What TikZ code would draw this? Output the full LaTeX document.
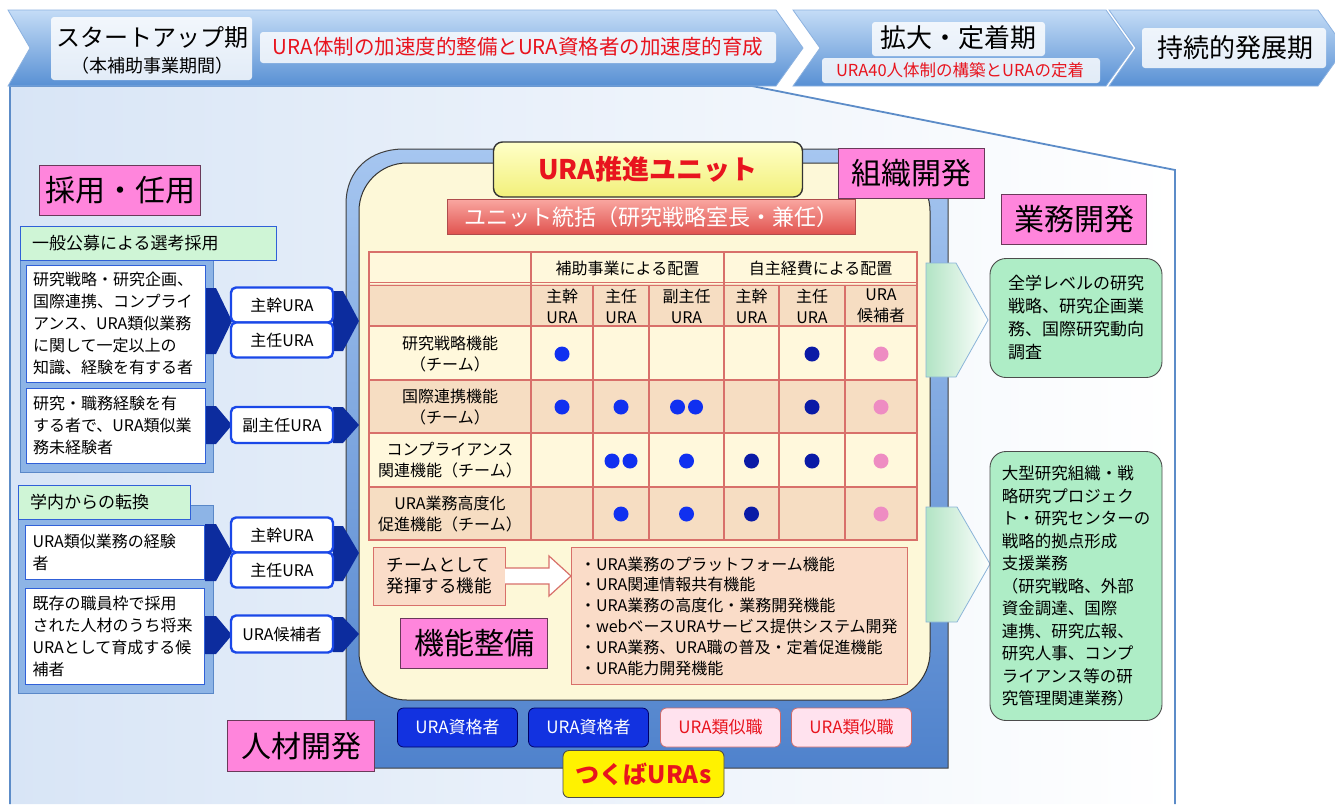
\documentclass[tikz,border=0pt]{standalone}
\usepackage{fontspec}
\setmainfont{Noto Sans CJK JP}
\usetikzlibrary{calc}
\newcommand\myfs[2]{\fontsize{#1}{#2}\selectfont}
\definecolor{pnk}{HTML}{FF85DC}
\definecolor{pnkdraw}{HTML}{6A3A5A}
\definecolor{chevT}{HTML}{C4DCF6}
\definecolor{chevB}{HTML}{5890D4}
\definecolor{chevD}{HTML}{8CB2E0}
\definecolor{panelL}{HTML}{D8E5F6}
\definecolor{panelLine}{HTML}{5C8CC8}
\definecolor{redtxt}{HTML}{E8141E}
\definecolor{grnlab}{HTML}{CFF5D6}
\definecolor{bluedraw}{HTML}{3060D8}
\definecolor{contfill}{HTML}{8DB4E6}
\definecolor{contdraw}{HTML}{5A88C8}
\definecolor{navy}{HTML}{0C2C9E}
\definecolor{urab}{HTML}{1A48E8}
\definecolor{outerT}{HTML}{A6C6F0}
\definecolor{outerB}{HTML}{4F82CC}
\definecolor{cream}{HTML}{FDF8D8}
\definecolor{tcream}{HTML}{FFF8DC}
\definecolor{ttan}{HTML}{F6DDC2}
\definecolor{tline}{HTML}{D8706A}
\definecolor{dotb}{HTML}{1030F0}
\definecolor{dotn}{HTML}{0A1AA6}
\definecolor{dotp}{HTML}{EE8CC2}
\definecolor{listfill}{HTML}{FADCC8}
\definecolor{qualb}{HTML}{1232E0}
\definecolor{simfill}{HTML}{FFE2EE}
\definecolor{greenbox}{HTML}{AEEDC6}
\definecolor{yelT}{HTML}{FFFFC8}
\definecolor{yelB}{HTML}{F2F07A}
\definecolor{redT}{HTML}{F9A6A0}
\definecolor{redB}{HTML}{E0524E}
\definecolor{garrL}{HTML}{B2E4C4}
\definecolor{garrD}{HTML}{8AB4D8}
\begin{document}
\begin{tikzpicture}[x=1pt,y=-1pt,
  every node/.style={inner sep=0pt,outer sep=0pt},
  pinkbox/.style={draw=pnkdraw, fill=pnk, line width=0.9pt, font=\myfs{30}{32}},
  grnlabel/.style={draw=bluedraw, fill=grnlab, line width=0.9pt, font=\myfs{17}{20}, align=left, inner xsep=12pt},
  cont/.style={draw=contdraw, fill=contfill, line width=1pt},
  wbox/.style={draw=bluedraw, fill=white, line width=0.9pt, font=\myfs{16}{22}, align=left, text width=165pt, inner xsep=7pt},
  urabox/.style={draw=urab, fill=white, line width=2.4pt, rounded corners=5pt, font=\myfs{16}{18}, minimum width=102pt},
  tcell/.style={font=\myfs{16}{21}, align=center},
  dotst/.style={circle, fill=#1, minimum size=15pt},
  tl/.style={tline, line width=1.5pt},
  qual/.style={fill=qualb, draw=blue!40!black, line width=0.8pt, rounded corners=6pt, minimum width=120pt, minimum height=39pt, text=white, font=\myfs{17}{19}},
  simj/.style={fill=simfill, draw=red!30!pink!80!black, line width=0.8pt, rounded corners=6pt, minimum width=120pt, minimum height=39pt, text=redtxt, font=\myfs{17}{19}},
  gbox/.style={draw=black!70, fill=greenbox, line width=0.9pt, rounded corners=16pt, minimum width=172pt, align=left},
  garr/.style={left color=garrL, right color=white, draw=garrD, line width=0.8pt},
  glow/.style={fill=white, opacity=0.82, rounded corners=3pt},
]
\useasboundingbox (0,0) rectangle (1335,804);
\clip (0,0) rectangle (1335,804);
\fill[white] (0,0) rectangle (1335,804);

% ---------- background panel ----------
\shade[left color=panelL, right color=white] (10,86) -- (752,86) -- (1175,170) -- (1175,804) -- (10,804) -- cycle;
\draw[panelLine, line width=1.8pt] (10,804) -- (10,86) -- (752,86) -- (1175,170) -- (1175,804);

% ---------- chevrons ----------
\shade[top color=chevT, bottom color=chevB, draw=chevD, line width=0.8pt] (8,10) -- (776,10) -- (803,48) -- (776,86) -- (8,86) -- (30,48) -- cycle;
\shade[top color=chevT, bottom color=chevB, draw=chevD, line width=0.8pt] (793,10) -- (1106,10) -- (1133,48) -- (1106,86) -- (793,86) -- (820,48) -- cycle;
\shade[top color=chevT, bottom color=chevB, draw=chevD, line width=0.8pt] (1109,10) -- (1318,10) -- (1345,48) -- (1318,86) -- (1109,86) -- (1136,48) -- cycle;
\fill[glow] (51,17) rectangle (252,80);
\fill[glow] (260,32) rectangle (776,63);
\fill[glow] (872,22) rectangle (1045,56);
\fill[glow] (822,58) rectangle (1100,83);
\fill[glow] (1142,28) rectangle (1326,68);
\node[font=\myfs{24}{26}] (p1a) at (152,38) {スタートアップ期};
\node[font=\myfs{18}{20}] (p1b) at (152,66) {（本補助事業期間）};
\node[font=\myfs{20.5}{23}, text=redtxt] (p1c) at (518,47) {URA体制の加速度的整備とURA資格者の加速度的育成};
\node[font=\myfs{26}{28}] (p2a) at (958,38) {拡大・定着期};
\node[font=\myfs{16.5}{18}, text=redtxt] (p2b) at (960,70) {URA40人体制の構築とURAの定着};
\node[font=\myfs{26}{28}] (p3a) at (1235,48) {持続的発展期};

% ---------- central unit ----------
\shade[top color=outerT, bottom color=outerB, draw=black!75, line width=1pt]
  (346,768) -- (346,204) .. controls (346,170) and (370,149) .. (404,149) -- (930,149) .. controls (942,149) and (948,156) .. (948,168) -- (948,768) -- cycle;
\draw[fill=cream, draw=black!80, line width=1pt, rounded corners=48pt] (359,163) rectangle (930,700);

% ---------- left column ----------
\node[pinkbox, minimum width=161pt, minimum height=50pt] (saiyo) at (120,190) {採用・任用};
\draw[cont] (20,250) rectangle (213,472);
\node[grnlabel, text width=232pt, minimum height=34pt] (lab1) at (148,243) {一般公募による選考採用};
\draw[cont] (18,505) rectangle (213,693);
\node[grnlabel, text width=148pt, minimum height=34pt] (lab2) at (104,502) {学内からの転換};

% navy block arrows
\fill[navy] (205,288) -- (216,288) -- (232,321) -- (216,354) -- (205,354) -- cycle;
\fill[navy] (333,291) -- (343,291) -- (359,321) -- (343,351) -- (333,351) -- cycle;
\fill[navy] (205,406) -- (216,406) -- (232,425) -- (216,444) -- (205,444) -- cycle;
\fill[navy] (333,407) -- (343,407) -- (359,425) -- (343,443) -- (333,443) -- cycle;
\fill[navy] (205,524) -- (216,524) -- (232,552) -- (216,581) -- (205,581) -- cycle;
\fill[navy] (333,526) -- (343,526) -- (359,553) -- (343,581) -- (333,581) -- cycle;
\fill[navy] (205,616) -- (216,616) -- (232,635) -- (216,654) -- (205,654) -- cycle;
\fill[navy] (333,617) -- (343,617) -- (359,634) -- (343,652) -- (333,652) -- cycle;

\node[wbox, minimum height=117pt] (w1) at (115.5,323.5) {研究戦略・研究企画、\\国際連携、コンプライ\\アンス、URA類似業務\\に関して一定以上の\\知識、経験を有する者};
\node[wbox, minimum height=75pt] (w2) at (115.5,425.5) {研究・職務経験を有\\する者で、URA類似業\\務未経験者};
\node[wbox, minimum height=54pt] (w3) at (115,552) {URA類似業務の経験\\者};
\node[wbox, minimum height=96pt] (w4) at (115,636) {既存の職員枠で採用\\された人材のうち将来\\URAとして育成する候\\補者};

\node[urabox, minimum height=35pt] (u1) at (282,305) {主幹URA};
\node[urabox, minimum height=35pt] (u2) at (282,340) {主任URA};
\node[urabox, minimum height=36pt] (u3) at (282,425) {副主任URA};
\node[urabox, minimum height=35pt] (u4) at (282,535) {主幹URA};
\node[urabox, minimum height=35pt] (u5) at (282,570) {主任URA};
\node[urabox, minimum height=37pt] (u6) at (282,634) {URA候補者};

\node[pinkbox, minimum width=147pt, minimum height=51pt] (jinzai) at (301,746) {人材開発};

% ---------- unit header ----------
\node[top color=yelT, bottom color=yelB, draw=black!80, line width=1.4pt, rounded corners=9pt, minimum width=309pt, minimum height=55pt, text=redtxt, font=\myfs{27}{29}\bfseries] (unit) at (648,169.5) {URA推進ユニット};
\node[pinkbox, minimum width=146pt, minimum height=50pt] (soshiki) at (911,173) {組織開発};
\node[top color=redT, bottom color=redB, draw=red!55!black!70, line width=0.8pt, minimum width=408pt, minimum height=35pt, text=white, font=\myfs{22}{24}] (tokatsu) at (651,217) {ユニット統括（研究戦略室長・兼任）};

% ---------- table ----------
\fill[tcream] (369,252) rectangle (917,284);
\fill[ttan] (369,284) rectangle (917,326);
\fill[tcream] (369,326) rectangle (917,380);
\fill[ttan] (369,380) rectangle (917,433);
\fill[tcream] (369,433) rectangle (917,487);
\fill[ttan] (369,487) rectangle (917,540);
\draw[tl] (369,252) rectangle (917,540);
\draw[tl] (369,282.5) -- (917,282.5);
\draw[tl] (369,285.5) -- (917,285.5);
\foreach \yy in {326,380,433,487} \draw[tl] (369,\yy) -- (917,\yy);
\foreach \xx in {531,724} \draw[tl] (\xx,252) -- (\xx,540);
\foreach \xx in {593,649,779,845} \draw[tl] (\xx,285) -- (\xx,540);

\node[tcell] (th1) at (627.5,268) {補助事業による配置};
\node[tcell] (th2) at (820.5,268) {自主経費による配置};
\node[tcell] (hc1) at (562,306) {主幹\\URA};
\node[tcell] (hc2) at (621,306) {主任\\URA};
\node[tcell] (hc3) at (686.5,306) {副主任\\URA};
\node[tcell] (hc4) at (751.5,306) {主幹\\URA};
\node[tcell] (hc5) at (812,306) {主任\\URA};
\node[tcell] (hc6) at (881,306) {URA\\候補者};
\node[tcell] (r1) at (450,354) {研究戦略機能\\（チーム）};
\node[tcell] (r2) at (450,407) {国際連携機能\\（チーム）};
\node[tcell] (r3) at (450,460) {コンプライアンス\\関連機能（チーム）};
\node[tcell] (r4) at (450,514) {URA業務高度化\\促進機能（チーム）};

\node[dotst=dotb] (d11) at (562,354) {};
\node[dotst=dotn] (d15) at (812,354) {};
\node[dotst=dotp] (d16) at (881,354) {};
\node[dotst=dotb] (d21) at (562,407) {};
\node[dotst=dotb] (d22) at (621,407) {};
\node[dotst=dotb] (d23a) at (677.5,407) {};
\node[dotst=dotb] (d23b) at (695.5,407) {};
\node[dotst=dotn] (d25) at (812,407) {};
\node[dotst=dotp] (d26) at (881,407) {};
\node[dotst=dotb] (d32a) at (612,461) {};
\node[dotst=dotb] (d32b) at (630,461) {};
\node[dotst=dotb] (d33) at (686.5,461) {};
\node[dotst=dotn] (d34) at (751.5,461) {};
\node[dotst=dotn] (d35) at (812,461) {};
\node[dotst=dotp] (d36) at (881,461) {};
\node[dotst=dotb] (d42) at (621,514) {};
\node[dotst=dotb] (d43) at (686.5,514) {};
\node[dotst=dotn] (d44) at (751.5,514) {};
\node[dotst=dotp] (d46) at (881,514) {};

% ---------- functions ----------
\node[draw=tline, fill=listfill, line width=1pt, minimum width=132pt, minimum height=58pt, align=left, font=\myfs{17.5}{21}] (team) at (439,576) {チームとして\\発揮する機能};
\node[draw=tline, fill=listfill, line width=1pt, minimum width=336pt, minimum height=137pt] (listb) at (739,615.5) {};
\node[anchor=west, align=left, font=\myfs{16}{20.8}] (listt) at (580,616) {・URA業務のプラットフォーム機能\\・URA関連情報共有機能\\・URA業務の高度化・業務開発機能\\・webベースURAサービス提供システム開発\\・URA業務、URA職の普及・定着促進機能\\・URA能力開発機能};
\draw[draw=tline, fill=white, line width=1.2pt] ($(team.east)+(0,-8)$) -- ($(team.east)+(44,-8)$) -- ($(team.east)+(44,-20)$) -- (listb.west |- team.east) -- ($(team.east)+(44,20)$) -- ($(team.east)+(44,8)$) -- ($(team.east)+(0,8)$);
\node[pinkbox, minimum width=147pt, minimum height=50pt] (kino) at (474,643) {機能整備};

% ---------- bottom members ----------
\node[qual] (q1) at (457.5,727.5) {URA資格者};
\node[qual] (q2) at (588.5,727.5) {URA資格者};
\node[simj] (s1) at (720.5,727.5) {URA類似職};
\node[simj] (s2) at (851.5,727.5) {URA類似職};
\node[fill=yellow, draw=black!70, line width=0.9pt, rounded corners=6pt, minimum width=161pt, minimum height=47pt, text=redtxt, font=\myfs{24}{26}\bfseries] (tsukuba) at (643.5,774) {つくばURAs};

% ---------- right column ----------
\node[pinkbox, minimum width=145pt, minimum height=50pt] (gyomu) at (1074,219) {業務開発};
\shade[garr] (926,263) -- (956,263) -- (988,320) -- (956,377) -- (926,377) -- cycle;
\shade[garr] (926,507) -- (957,507) -- (990,564) -- (957,622) -- (926,622) -- cycle;
\node[gbox, minimum height=119pt, font=\myfs{17}{23}] (g1) at (1076,318) {全学レベルの研究\\戦略、研究企画業\\務、国際研究動向\\調査};
\node[gbox, minimum height=269pt, font=\myfs{16.5}{22.5}] (g2) at (1076,586) {大型研究組織・戦\\略研究プロジェク\\ト・研究センターの\\戦略的拠点形成\\支援業務\\（研究戦略、外部\\資金調達、国際\\連携、研究広報、\\研究人事、コンプ\\ライアンス等の研\\究管理関連業務）};
\end{tikzpicture}
\end{document}
